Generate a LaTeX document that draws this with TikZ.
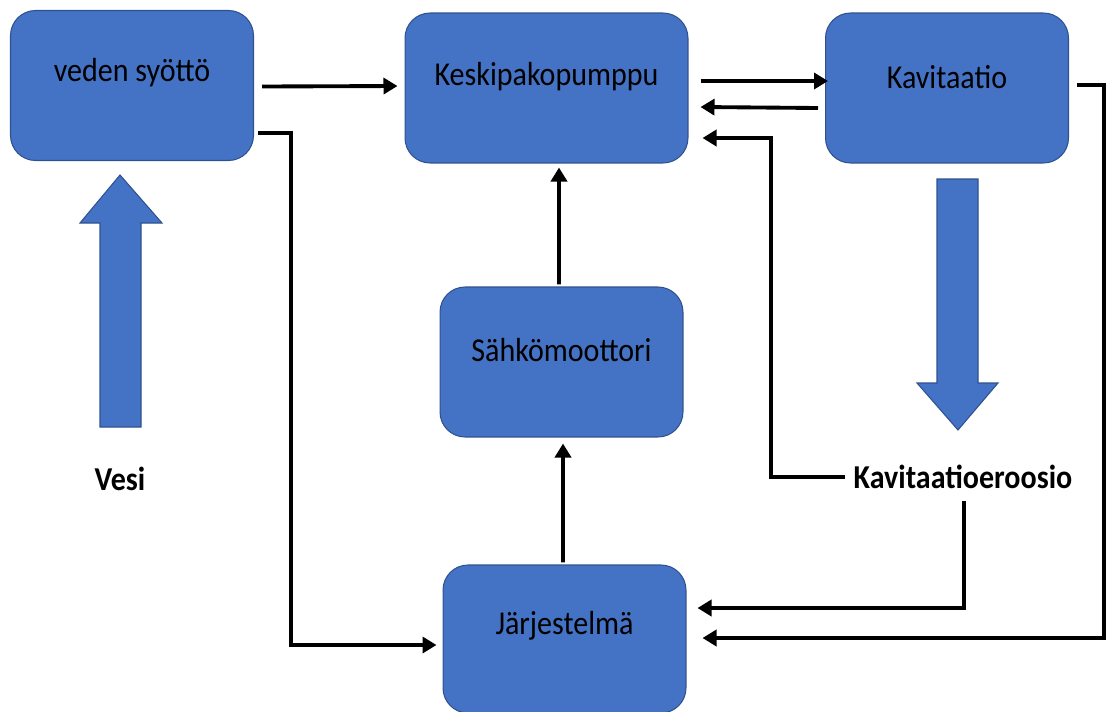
\documentclass[tikz,border=0pt]{standalone}
\usepackage{fontspec}
\setmainfont[FakeStretch=0.9]{Carlito}
\usetikzlibrary{calc,arrows.meta}
\definecolor{laatikko}{HTML}{4472C4}
\definecolor{reuna}{HTML}{2F528F}
\tikzset{
  blok/.style={draw=reuna,line width=0.6pt,fill=laatikko,rounded corners=0.5cm,
    minimum width=4.86cm,minimum height=3cm,inner sep=0pt},
  nimi/.style={font=\fontsize{19}{23}\selectfont,inner sep=1pt},
  nuoli/.style={line width=2.2pt,-{Triangle[length=0.28cm,width=0.32cm]}},
  iso/.style={draw=reuna,line width=0.6pt,fill=laatikko}
}
\begin{document}
\begin{tikzpicture}[x=0.02cm,y=-0.02cm]
\useasboundingbox (0,0) rectangle (1106,711);
% laatikot
\node[blok] (syotto) at (132,85.5) {};
\node[blok,minimum width=5.66cm] (pumppu) at (546.5,88) {};
\node[blok] (kavit) at (947,88) {};
\node[blok] (moottori) at (561.5,362) {};
\node[blok,minimum height=2.96cm] (jarj) at (564.5,639) {};
\node[nimi] (syottoT) at (132,73) {veden syöttö};
\node[nimi] (pumppuT) at (546.5,77) {Keskipakopumppu};
\node[nimi] (kavitT) at (947,77) {Kavitaatio};
\node[nimi] (moottoriT) at (561.5,350) {Sähkömoottori};
\node[nimi] (jarjT) at (564.5,626) {Järjestelmä};
\node[nimi,font=\fontsize{19}{23}\selectfont\bfseries] (vesi) at (120,479) {Vesi};
\node[nimi,font=\fontsize{19}{23}\selectfont\bfseries,inner sep=5pt] (eroosio) at (963,477) {Kavitaatioeroosio};
% isot nuolet
\draw[iso] (100,427) -- (141,427) -- (141,223) -- (162,223) -- (120,175) -- (80,223) -- (100,223) -- cycle;
\draw[iso] (937,179) -- (978,179) -- (978,383) -- (998,383) -- (958,430) -- (917,383) -- (937,383) -- cycle;
% yhteydet
\draw[nuoli] ($(syotto.east)+(8,1)$) -- ($(pumppu.west)+(-7,-2)$);
\draw[nuoli] ($(syotto.south east)+(4,-28)$) -- ++(33,0) |- ($(jarj.west)+(-6,6)$);
\draw[nuoli] ($(pumppu.east)+(12,-7)$) -- ($(kavit.west)+(3,-7)$);
\draw[nuoli] ($(kavit.west)+(-7,20)$) -- ($(pumppu.east)+(12,19)$);
\draw[nuoli] (eroosio.west) -- ++(-74,0) |- ($(pumppu.east)+(14,50)$);
\draw[nuoli] ($(eroosio.south)+(1,3)$) |- ($(jarj.east)+(11,-31)$);
\draw[nuoli] ($(kavit.east)+(8,-3)$) -- ++(27,0) |- ($(jarj.east)+(16,-1)$);
\draw[nuoli] ($(moottori.north)+(-2.5,-2)$) -- ($(pumppu.south)+(12.5,4)$);
\draw[nuoli] ($(jarj.north)+(-1.5,-2)$) -- ($(moottori.south)+(1.5,6)$);
\end{tikzpicture}
\end{document}
